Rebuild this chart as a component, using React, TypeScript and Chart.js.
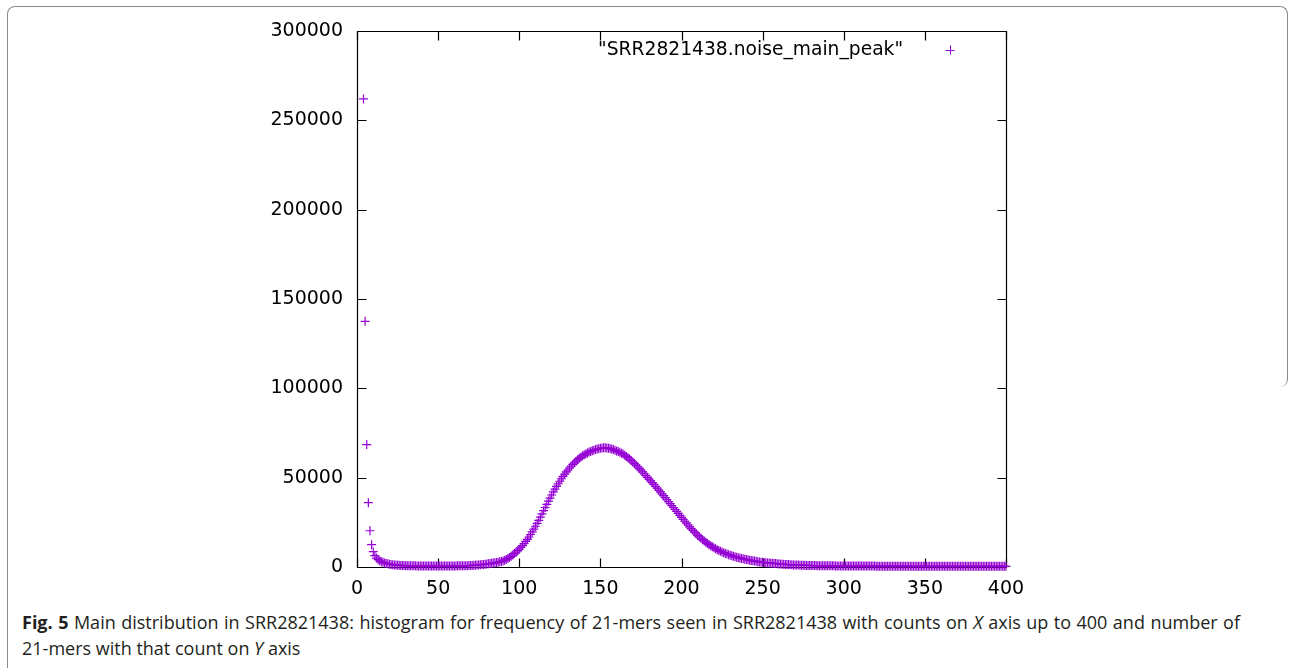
import React, { useEffect, useRef } from 'react';
import { Chart, registerables } from 'chart.js';

Chart.register(...registerables);

// k-mer count (x) starts at 4 and increases by 1 for each value below
const countStart = 4;
const kmerNumbers = [
  262000, 137500, 68500, 36000, 20300, 12500, 8600,
  6400, 5000, 4100, 3500, 3000, 2600, 2300, 2000, 1800, 1600,
  1450, 1300, 1180, 1080, 1000, 930, 870, 820, 780, 740,
  710, 690, 670, 650, 640, 630, 620, 610, 600, 600,
  590, 590, 580, 580, 580, 570, 570, 570, 570, 570,
  570, 570, 570, 580, 580, 580, 590, 590, 600, 610,
  620, 630, 640, 660, 680, 700, 730, 760, 800, 850,
  900, 960, 1020, 1090, 1160, 1240, 1330, 1430, 1540, 1660,
  1780, 1900, 2030, 2170, 2320, 2490, 2680, 2890, 3120, 3400,
  3800, 4250, 4750, 5300, 5980, 6700, 7500, 8300, 9150, 10000,
  11000, 12000, 13100, 14300, 15500, 16800, 18200, 19700, 21200, 22800,
  24400, 26100, 27900, 29700, 31500, 33300, 35100, 36900, 38600, 40300,
  42000, 43600, 45100, 46600, 48000, 49400, 50700, 52000, 53200, 54300,
  55400, 56400, 57400, 58300, 59200, 60000, 60800, 61500, 62200, 62800,
  63300, 63800, 64300, 64700, 65100, 65400, 65700, 66000, 66200, 66400,
  66600, 66700, 66700, 66600, 66500, 66300, 66000, 65700, 65300, 64900,
  64600, 64200, 63700, 63200, 62600, 61900, 61200, 60400, 59600, 58700,
  57900, 57000, 56100, 55200, 54200, 53200, 52200, 51200, 50200, 49200,
  48200, 47200, 46200, 45100, 44100, 43000, 42000, 40900, 39900, 38800,
  37700, 36600, 35500, 34400, 33300, 32200, 31100, 30000, 28900, 27800,
  26700, 25600, 24600, 23500, 22500, 21500, 20500, 19500, 18600, 17700,
  16900, 16100, 15300, 14600, 13900, 13200, 12500, 11900, 11300, 10800,
  10200, 9700, 9200, 8800, 8400, 8000, 7600, 7300, 6900, 6600,
  6300, 6000, 5700, 5500, 5200, 5000, 4800, 4600, 4400, 4200,
  4000, 3800, 3600, 3450, 3300, 3150, 3000, 2850, 2700, 2600,
  2500, 2400, 2300, 2220, 2140, 2060, 1980, 1900, 1820, 1740,
  1670, 1600, 1530, 1460, 1400, 1340, 1280, 1230, 1180, 1130,
  1090, 1050, 1010, 980, 950, 920, 890, 870, 850, 830,
  810, 790, 770, 750, 730, 720, 700, 690, 680, 670,
  660, 650, 640, 630, 620, 610, 600, 590, 580, 570,
  560, 560, 550, 550, 540, 540, 530, 530, 520, 520,
  510, 510, 510, 500, 500, 500, 490, 490, 490, 480,
  480, 480, 470, 470, 470, 470, 460, 460, 460, 460,
  450, 450, 450, 450, 440, 440, 440, 440, 440, 430,
  430, 430, 430, 430, 420, 420, 420, 420, 420, 420,
  410, 410, 410, 410, 410, 410, 400, 400, 400, 400,
  400, 400, 400, 390, 390, 390, 390, 390, 390, 390,
  380, 380, 380, 380, 380, 380, 380, 380, 370, 370,
  370, 370, 370, 370, 370, 370, 370, 360, 360, 360,
  360, 360, 360, 360, 360, 360, 350, 350, 350, 350,
];

const xTicks = [0, 50, 100, 150, 200, 250, 300, 350, 400];
const yTicks = [0, 50000, 100000, 150000, 200000, 250000, 300000];
const seriesLabel = '"SRR2821438.noise_main_peak"';
const captionBold = 'Fig. 5';
const captionLine1 = [
  ' Main distribution in SRR2821438: histogram for frequency of 21-mers seen in SRR2821438 with counts on ',
  'X',
  ' axis up to 400 and number of',
];
const captionLine2 = ['21-mers with that count on ', 'Y', ' axis'];

const POINT_COLOR = 'rgb(148, 0, 211)';
const TICK_FONT = '"DejaVu Sans", sans-serif';

const gnuplotFrame = {
  id: 'gnuplotFrame',
  beforeDatasetsDraw(chart: any) {
    const { ctx, chartArea, scales } = chart;
    const { left, right, top, bottom } = chartArea;
    const L = Math.round(left) + 0.5;
    const R = Math.round(right) + 0.5;
    const T = Math.round(top) + 0.5;
    const B = Math.round(bottom) + 0.5;
    const tl = 9;
    ctx.save();
    ctx.strokeStyle = '#000';
    ctx.lineWidth = 1.2;
    ctx.beginPath();
    ctx.rect(L, T, R - L, B - T);
    ctx.stroke();
    ctx.beginPath();
    xTicks.forEach((v) => {
      const px = Math.round(scales.x.getPixelForValue(v)) + 0.5;
      ctx.moveTo(px, B);
      ctx.lineTo(px, B - tl);
      ctx.moveTo(px, T);
      ctx.lineTo(px, T + tl);
    });
    yTicks.forEach((v) => {
      const py = Math.round(scales.y.getPixelForValue(v)) + 0.5;
      ctx.moveTo(L, py);
      ctx.lineTo(L + tl, py);
      ctx.moveTo(R, py);
      ctx.lineTo(R - tl, py);
    });
    ctx.stroke();
    ctx.restore();
  },
  afterDraw(chart: any) {
    const { ctx, chartArea } = chart;
    const { right, top } = chartArea;
    ctx.save();
    ctx.font = `18.7px ${TICK_FONT}`;
    ctx.fillStyle = '#000';
    ctx.textAlign = 'right';
    ctx.textBaseline = 'middle';
    const ty = top + 19;
    ctx.fillText(seriesLabel, right - 103, ty);
    const cx = right - 56;
    ctx.strokeStyle = POINT_COLOR;
    ctx.lineWidth = 1;
    ctx.beginPath();
    ctx.moveTo(cx - 4.5, ty + 0.5);
    ctx.lineTo(cx + 4.5, ty + 0.5);
    ctx.moveTo(cx + 0.5, ty - 4.5);
    ctx.lineTo(cx + 0.5, ty + 4.5);
    ctx.stroke();
    ctx.restore();
  },
};

export default function App() {
  const canvasRef = useRef<HTMLCanvasElement | null>(null);

  useEffect(() => {
    if (!canvasRef.current) return;
    const points = kmerNumbers.map((y, i) => ({ x: countStart + i, y }));
    const chart = new Chart(canvasRef.current, {
      type: 'scatter',
      data: {
        datasets: [
          {
            label: seriesLabel,
            data: points,
            pointStyle: 'cross',
            pointRadius: 4.5,
            pointBorderWidth: 1.2,
            borderColor: POINT_COLOR,
            backgroundColor: POINT_COLOR,
            showLine: false,
            clip: false as any,
          },
        ],
      },
      options: {
        animation: false,
        responsive: false,
        events: [],
        layout: { padding: { left: 0, right: 284, top: 31, bottom: 3 } },
        plugins: {
          legend: { display: false },
          tooltip: { enabled: false },
        },
        scales: {
          x: {
            type: 'linear',
            min: 0,
            max: 400,
            border: { display: false },
            grid: { display: false, drawTicks: false },
            afterFit: (s: any) => {
              s.height = 30;
            },
            afterBuildTicks: (s: any) => {
              s.ticks = xTicks.map((v) => ({ value: v }));
            },
            ticks: {
              color: '#000',
              padding: 11,
              maxRotation: 0,
              font: { family: TICK_FONT, size: 19 },
            },
          },
          y: {
            type: 'linear',
            min: 0,
            max: 300000,
            border: { display: false },
            grid: { display: false, drawTicks: false },
            afterFit: (s: any) => {
              s.width = 357;
            },
            afterBuildTicks: (s: any) => {
              s.ticks = yTicks.map((v) => ({ value: v }));
            },
            ticks: {
              color: '#000',
              padding: 14,
              font: { family: TICK_FONT, size: 19 },
              callback: (v: any) => String(v),
            },
          },
        },
      },
      plugins: [gnuplotFrame],
    });
    return () => chart.destroy();
  }, []);

  const captionStyle: React.CSSProperties = {
    position: 'absolute',
    left: 22,
    width: 1218,
    fontFamily: '"Open Sans", sans-serif',
    fontSize: 18,
    lineHeight: '26px',
    color: '#231f20',
    whiteSpace: 'nowrap',
  };

  return (
    <div style={{ position: 'absolute', left: 0, top: 0, width: 1290, height: 668, overflow: 'hidden', background: '#fff' }}>
      <div
        style={{
          position: 'absolute',
          left: 7,
          top: 6,
          width: 1279,
          height: 380,
          borderTop: '1px solid #8a8a8a',
          borderLeft: '1px solid #8a8a8a',
          borderRight: '1px solid #8a8a8a',
          borderRadius: '8px 8px 8px 0',
        }}
      />
      <div style={{ position: 'absolute', left: 7, top: 380, width: 1, height: 288, background: '#8a8a8a' }} />
      <canvas
        ref={canvasRef}
        width={1290}
        height={600}
        style={{ position: 'absolute', left: 0, top: 0, width: 1290, height: 600 }}
      />
      <div style={{ ...captionStyle, top: 609, whiteSpace: 'normal', textAlign: 'justify', textAlignLast: 'justify' as any }}>
        <b>{captionBold}</b>
        {captionLine1[0]}
        <i>{captionLine1[1]}</i>
        {captionLine1[2]}
      </div>
      <div style={{ ...captionStyle, top: 635 }}>
        {captionLine2[0]}
        <i>{captionLine2[1]}</i>
        {captionLine2[2]}
      </div>
    </div>
  );
}
